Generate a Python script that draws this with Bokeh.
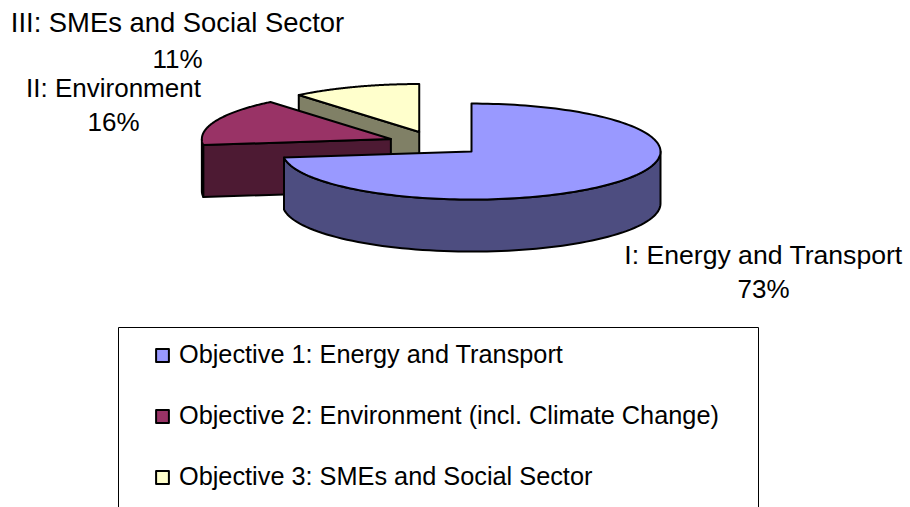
import numpy as np
from bokeh.plotting import figure
from bokeh.models import Legend, LegendItem
from bokeh.core.properties import value
from bokeh.embed import file_html
from bokeh.resources import INLINE

# data
shares = [73, 16, 11]
legend_names = ["Objective 1: Energy and Transport",
                "Objective 2: Environment (incl. Climate Change)",
                "Objective 3: SMEs and Social Sector"]
label_names = ["I: Energy and Transport", "II: Environment", "III: SMEs and Social Sector"]
top_colors = ["#9999FF", "#993366", "#FFFFCC"]
side_colors = ["#4D4D80", "#4D1A33", "#808066"]

# geometry of the tilted pie (screen pixels of the page)
CX, CY, RX, RY, EXPLODE, DEPTH = 435, 143, 189, 48, 48, 52
LINE = 2

p = figure(width=910, height=507, output_backend="svg", toolbar_location=None,
           x_range=(0, 910), y_range=(507, 0), min_border=0,
           outline_line_color=None, background_fill_color="white")
p.axis.visible = False
p.grid.visible = False

total = sum(shares)
edges = np.concatenate([[0], np.cumsum(shares)]) / total * 2 * np.pi
centers = []
for a0, a1 in zip(edges[:-1], edges[1:]):
    mid = (a0 + a1) / 2
    centers.append((CX + EXPLODE * np.sin(mid), CY - EXPLODE * RY / RX * np.cos(mid)))


def rim(c, a):
    return c[0] + RX * np.sin(a), c[1] - RY * np.cos(a)


def draw_slice(i):
    c, a0, a1 = centers[i], edges[i], edges[i + 1]
    kw = dict(line_color="black", line_width=LINE, line_join="round")
    # outer wall: the part of the rim facing the viewer
    w0, w1 = max(a0, np.pi / 2), min(a1, 3 * np.pi / 2)
    if w1 > w0:
        t = np.linspace(w0, w1, 80)
        x, y = rim(c, t)
        p.patch(np.r_[x, x[::-1]], np.r_[y, y[::-1] + DEPTH], fill_color=side_colors[i], **kw)
    # the cut wall at the slice's starting edge faces the viewer
    if a0 > 0:
        ex, ey = rim(c, a0)
        p.patch([c[0], ex, ex, c[0]], [c[1], ey, ey + DEPTH, c[1] + DEPTH],
                fill_color=side_colors[i], **kw)
    # top face
    t = np.linspace(a0, a1, 160)
    x, y = rim(c, t)
    return p.patch(np.r_[c[0], x], np.r_[c[1], y], fill_color=top_colors[i], **kw)


tops = {}
for i in (2, 1, 0):
    tops[i] = draw_slice(i)

# data labels
label_x = [763, 113, 177]
name_mid = [254, 87, 22]
pct_mid = [288, 121, 58]
name_sizes = ["26.6px", "26px", "27.4px"]
lab_kw = dict(text_font=value("Liberation Sans"), text_align="center",
              text_baseline="middle", text_color="black")
for x, ym, name, size in zip(label_x, name_mid, label_names, name_sizes):
    p.text([x], [ym], text=[name], text_font_size=size, **lab_kw)
p.text(label_x, pct_mid, text=[f"{s}%" for s in shares], text_font_size="26px", **lab_kw)

# legend frame, open at the bottom of the picture
p.line([118, 118, 758, 758], [507, 327, 327, 507], line_color="black", line_width=1)

legend = Legend(items=[LegendItem(label=value(n), renderers=[tops[i]]) for i, n in enumerate(legend_names)],
                location=(154, 16), padding=0, margin=0, spacing=32,
                glyph_width=16, glyph_height=16, label_standoff=9,
                label_text_font="Liberation Sans", label_text_font_size="25.3px",
                label_text_color="black", border_line_color=None,
                background_fill_alpha=0, label_height=28)
p.add_layout(legend)

open("out.html", "w").write(file_html(p, INLINE))
